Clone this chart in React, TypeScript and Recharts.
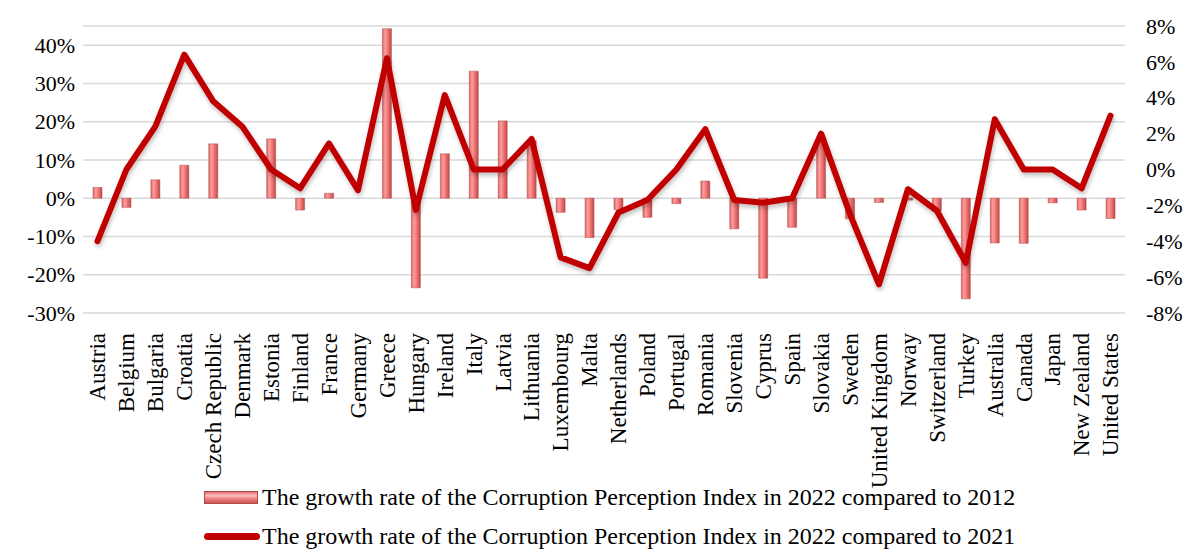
import { ComposedChart, Bar, Line, XAxis, YAxis, CartesianGrid, Legend } from 'recharts';

const countries = [
  'Austria', 'Belgium', 'Bulgaria', 'Croatia', 'Czech Republic', 'Denmark', 'Estonia', 'Finland', 'France',
  'Germany', 'Greece', 'Hungary', 'Ireland', 'Italy', 'Latvia', 'Lithuania', 'Luxembourg', 'Malta',
  'Netherlands', 'Poland', 'Portugal', 'Romania', 'Slovenia', 'Cyprus', 'Spain', 'Slovakia', 'Sweden',
  'United Kingdom', 'Norway', 'Switzerland', 'Turkey', 'Australia', 'Canada', 'Japan', 'New Zealand',
  'United States',
];

// growth 2022 vs 2012, % (left axis, bars)
const growthVs2012 = [
  2.8, -2.4, 4.8, 8.6, 14.2, 0, 15.5, -3.1, 1.3,
  0, 44.3, -23.4, 11.6, 33.2, 20.2, 15.0, -3.7, -10.3,
  -3.0, -5.0, -1.4, 4.5, -8.0, -20.9, -7.6, 16.0, -5.4,
  -1.1, -0.5, -3.3, -26.3, -11.7, -11.8, -1.2, -3.1,
  -5.3,
];

// growth 2022 vs 2021, % (right axis, line)
const growthVs2021 = [
  -4.0, 0, 2.4, 6.4, 3.8, 2.4, 0, -1.05, 1.45,
  -1.15, 6.2, -2.25, 4.15, 0, 0, 1.7, -4.9, -5.5,
  -2.4, -1.7, 0, 2.25, -1.7, -1.85, -1.6, 2.0, -2.5,
  -6.4, -1.1, -2.3, -5.2, 2.8, 0, 0, -1.05,
  3.0,
];

const leftTicks = [-30, -20, -10, 0, 10, 20, 30, 40];
const rightTicks = [-8, -6, -4, -2, 0, 2, 4, 6, 8];

const label2012 = 'The growth rate of the Corruption Perception Index in 2022 compared to 2012';
const label2021 = 'The growth rate of the Corruption Perception Index in 2022 compared to 2021';

const data = countries.map((country, i) => ({
  country,
  g2012: growthVs2012[i],
  g2021: growthVs2021[i],
}));

const FONT = "'Liberation Serif', 'Times New Roman', serif";

function CountryTick(props: any) {
  const { x, y, payload } = props;
  return (
    <text
      x={x}
      y={y}
      transform={`rotate(-90, ${x}, ${y})`}
      textAnchor="end"
      dy="0.34em"
      style={{ fontFamily: FONT, fontSize: 23 }}
      fill="#000"
    >
      {payload.value}
    </text>
  );
}

function PercentTick(props: any) {
  const { x, y, payload, textAnchor } = props;
  return (
    <text x={x} y={y} dy="0.35em" textAnchor={textAnchor} style={{ fontFamily: FONT, fontSize: 22 }} fill="#000">
      {`${payload.value}%`}
    </text>
  );
}

function renderLegend() {
  const row: React.CSSProperties = {
    display: 'flex',
    alignItems: 'center',
    height: 39,
    fontFamily: FONT,
    fontSize: 24,
    color: '#000',
    whiteSpace: 'nowrap',
  };
  return (
    <div style={{ paddingLeft: 204 }}>
      <div style={row}>
        <div
          style={{
            width: 54,
            height: 13,
            marginRight: 4,
            boxSizing: 'border-box',
            border: '1px solid #b04848',
            background: 'linear-gradient(to bottom, #e07070 0%, #ffc0c0 35%, #f08080 60%, #c85858 100%)',
          }}
        />
        {label2012}
      </div>
      <div style={row}>
        <div style={{ width: 56, height: 7, marginRight: 2, borderRadius: 4, background: '#c00000' }} />
        {label2021}
      </div>
    </div>
  );
}

export default function App() {
  return (
    <div style={{ position: 'absolute', left: 0, top: 0, fontFamily: FONT }}>
      <ComposedChart
        width={1184}
        height={550}
        data={data}
        margin={{ top: 26, right: 0, left: 0, bottom: 0 }}
        barCategoryGap={0}
        style={{ fontFamily: FONT }}
      >
        <defs>
          <linearGradient id="barGrad" x1="0" y1="0" x2="1" y2="0">
            <stop offset="0%" stopColor="#d86464" />
            <stop offset="30%" stopColor="#ff9e9e" />
            <stop offset="60%" stopColor="#f27474" />
            <stop offset="100%" stopColor="#b84a4a" />
          </linearGradient>
          <filter id="lineShadow" x="-5%" y="-10%" width="110%" height="130%">
            <feDropShadow dx="1" dy="3" stdDeviation="2" floodColor="#000" floodOpacity="0.25" />
          </filter>
        </defs>
        <CartesianGrid yAxisId="left" vertical={false} stroke="#d9d9d9" strokeWidth={1.5} />
        <XAxis
          dataKey="country"
          interval={0}
          height={165}
          tickLine={false}
          axisLine={false}
          tickMargin={14}
          tick={<CountryTick />}
        />
        <YAxis
          yAxisId="left"
          orientation="left"
          width={83}
          domain={[-30, 45]}
          ticks={leftTicks}
          tickLine={false}
          axisLine={false}
          tick={<PercentTick />}
        />
        <YAxis
          yAxisId="right"
          orientation="right"
          width={59}
          domain={[-8, 8]}
          ticks={rightTicks}
          tickLine={false}
          axisLine={false}
          tickMargin={15}
          tick={<PercentTick />}
        />
        <Legend
          content={renderLegend}
          wrapperStyle={{ left: 0, top: 478, width: 1184, height: 72 }}
        />
        <Bar
          yAxisId="left"
          dataKey="g2012"
          name={label2012}
          barSize={9}
          fill="url(#barGrad)"
          stroke="#b04848"
          strokeWidth={0.5}
          isAnimationActive={false}
        />
        <Line
          yAxisId="right"
          dataKey="g2021"
          name={label2021}
          stroke="#c00000"
          strokeWidth={6}
          strokeLinejoin="round"
          strokeLinecap="round"
          dot={false}
          activeDot={false}
          filter="url(#lineShadow)"
          isAnimationActive={false}
        />
      </ComposedChart>
    </div>
  );
}
